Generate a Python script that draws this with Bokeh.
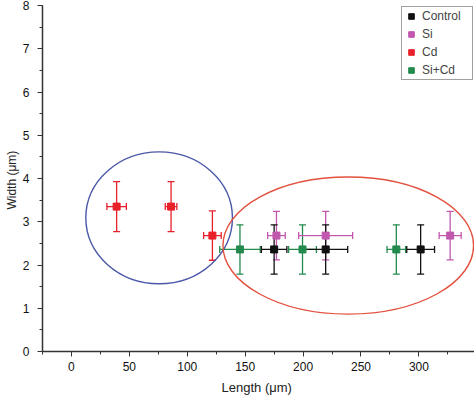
from bokeh.plotting import figure
from bokeh.models import (ColumnDataSource, Whisker, TeeHead, SingleIntervalTicker,
                          Legend, LegendItem, Range1d)
from bokeh.embed import file_html
from bokeh.resources import INLINE

# ---- data ----
series_names = ["Control", "Si", "Cd", "Si+Cd"]
series_colors = ["#111111", "#c257ae", "#e8202a", "#238a4e"]

control_len = [175.0, 219.5, 301.5]
control_len_err = [11.0, 19.0, 12.0]
control_wid = [2.36, 2.36, 2.36]
control_wid_err = [0.57, 0.57, 0.57]

si_len = [177.0, 219.5, 327.0]
si_len_err = [7.6, 23.3, 9.5]
si_wid = [2.68, 2.68, 2.68]
si_wid_err = [0.56, 0.56, 0.56]

cd_len = [39.0, 86.0, 121.7]
cd_len_err = [8.4, 5.0, 7.6]
cd_wid = [3.35, 3.35, 2.68]
cd_wid_err = [0.58, 0.58, 0.57]

sicd_len = [145.5, 199.5, 280.5]
sicd_len_err = [17.5, 12.0, 8.0]
sicd_wid = [2.36, 2.36, 2.36]
sicd_wid_err = [0.57, 0.57, 0.57]

ellipse_x = [75.7, 239.0]
ellipse_y = [3.09, 2.45]
ellipse_w = [126.6, 216.4]
ellipse_h = [3.05, 3.17]
ellipse_colors = ["#4a58a8", "#e2503e"]

x_label = "Length  (μm)"
y_label = "Width  (μm)"

# ---- figure ----
p = figure(width=474, height=397, output_backend="svg", toolbar_location=None,
           x_range=Range1d(-25, 348), y_range=Range1d(0, 8),
           min_border_left=42, min_border_right=0, min_border_top=5,
           min_border_bottom=40)
p.outline_line_color = None
p.xgrid.grid_line_color = None
p.ygrid.grid_line_color = None
p.background_fill_color = "white"

p.xaxis.ticker = SingleIntervalTicker(interval=50, num_minor_ticks=2)
p.yaxis.ticker = SingleIntervalTicker(interval=1, num_minor_ticks=2)

for ax in (p.xaxis, p.yaxis):
    ax.axis_line_color = "#333333"
    ax.axis_line_width = 1.5
    ax.major_tick_line_color = "#333333"
    ax.minor_tick_line_color = "#333333"
    ax.major_tick_in = 0
    ax.major_tick_out = 5
    ax.minor_tick_in = 0
    ax.minor_tick_out = 3
    ax.major_label_text_font = "Liberation Sans"
    ax.major_label_text_font_size = "12px"
    ax.major_label_text_color = "#111111"
    ax.axis_label_text_font = "Liberation Sans"
    ax.axis_label_text_font_style = "normal"
    ax.axis_label_text_color = "#222222"

p.xaxis.axis_label_text_font_size = "13px"
p.yaxis.axis_label_text_font_size = "12px"
p.xaxis.axis_label = x_label
p.yaxis.axis_label = y_label
p.xaxis.major_label_standoff = 5
p.xaxis.axis_label_standoff = 6
p.yaxis.major_label_standoff = 8
p.yaxis.axis_label_standoff = 1

# ellipses
esrc = ColumnDataSource(dict(x=ellipse_x, y=ellipse_y, w=ellipse_w, h=ellipse_h, c=ellipse_colors))
p.ellipse(x="x", y="y", width="w", height="h", source=esrc, fill_color=None,
          line_color="c", line_width=1.4)

series = [
    (control_len, control_len_err, control_wid, control_wid_err),
    (si_len, si_len_err, si_wid, si_wid_err),
    (cd_len, cd_len_err, cd_wid, cd_wid_err),
    (sicd_len, sicd_len_err, sicd_wid, sicd_wid_err),
]

draw_order = [2, 3, 1, 0]
renderers = {}
for i in draw_order:
    xs, xe, ys, ye = series[i]
    col = series_colors[i]
    src = ColumnDataSource(dict(
        x=xs, y=ys,
        xlo=[a - b for a, b in zip(xs, xe)], xhi=[a + b for a, b in zip(xs, xe)],
        ylo=[a - b for a, b in zip(ys, ye)], yhi=[a + b for a, b in zip(ys, ye)],
    ))
    wx = Whisker(source=src, base="y", lower="xlo", upper="xhi", dimension="width",
                 line_color=col, line_width=1.3,
                 upper_head=TeeHead(size=7, line_color=col, line_width=1.3),
                 lower_head=TeeHead(size=7, line_color=col, line_width=1.3))
    wy = Whisker(source=src, base="x", lower="ylo", upper="yhi", dimension="height",
                 line_color=col, line_width=1.3,
                 upper_head=TeeHead(size=7, line_color=col, line_width=1.3),
                 lower_head=TeeHead(size=7, line_color=col, line_width=1.3))
    p.add_layout(wx)
    p.add_layout(wy)
    r = p.scatter(x="x", y="y", source=src, marker="square", size=7,
                  fill_color=col, line_color=col)
    renderers[i] = r

items = [LegendItem(label=series_names[i], renderers=[renderers[i]]) for i in range(4)]

legend = Legend(items=items, location="top_right", margin=1, padding=2, spacing=4,
                label_height=14, label_width=48, glyph_height=14, glyph_width=14,
                label_standoff=4,
                label_text_font="Liberation Sans", label_text_font_size="12px",
                border_line_color="#444444", border_line_width=1,
                background_fill_color="white", background_fill_alpha=1.0)
p.add_layout(legend)

open("out.html", "w").write(file_html(p, INLINE))
